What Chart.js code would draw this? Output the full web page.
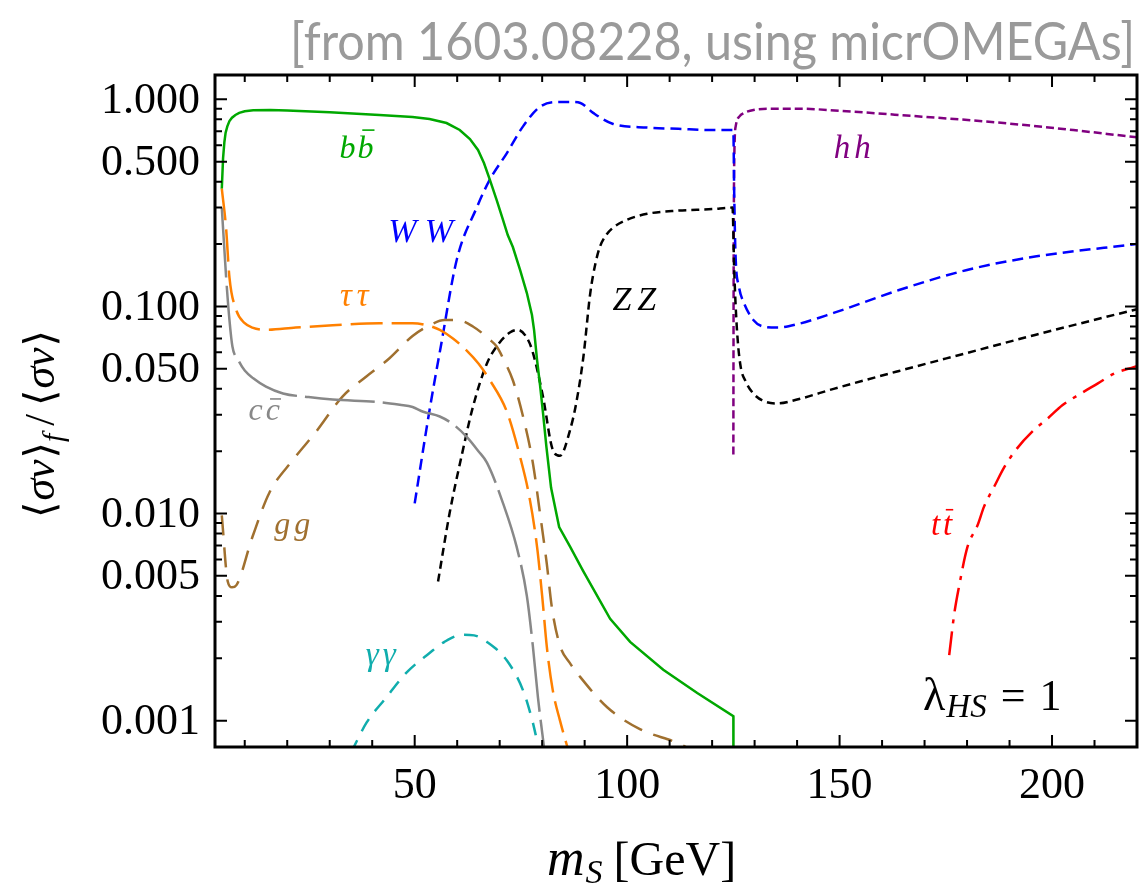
<!DOCTYPE html>
<html>
<head>
<meta charset="utf-8">
<script src="https://cdn.jsdelivr.net/npm/chart.js@4.4.1/dist/chart.umd.min.js"></script>
<style>
  html, body { margin: 0; padding: 0; background: #fff; }
  canvas { display: block; }
</style>
</head>
<body>
<canvas id="myChart" width="1140" height="885"></canvas>
<script>
// channel fractions <sigma v>_f / <sigma v> against m_S [GeV], lambda_HS = 1
var bbbar = [[4.6,0.37],[4.9,0.52],[5.2,0.62],[5.5,0.69],[5.9,0.74],[6.4,0.785],[7,0.815],[7.8,0.84],[8.7,0.86],
  [10,0.875],[12,0.885],[16,0.887],[20,0.882],[30,0.865],[41.7,0.84],[49.5,0.821],[53.5,0.803],[57.5,0.768],
  [60.6,0.711],[63,0.643],[64.9,0.569],[66.3,0.492],[67.7,0.408],[69.3,0.326],[70.8,0.261],[71.9,0.221],
  [73.1,0.1935],[74.8,0.150],[76.4,0.116],[77.6,0.0909],[78.1,0.0769],[78.8,0.0551],[79.5,0.0417],[80.2,0.0306],
  [81,0.021],[82.1,0.0133],[84,0.0086],[86.6,0.0069],[89.6,0.0053],[96,0.0031],[100.7,0.0024],[108.5,0.00176],
  [116.5,0.00136],[125,0.00105],[125.02,0.0005]];
var WW = [[50,0.0112],[53.5,0.0316],[56.2,0.065],[59.9,0.168],[64.6,0.30],[67.7,0.41],[71.7,0.55],[75.5,0.74],
  [79.5,0.92],[83.5,0.97],[87,0.97],[89,0.96],[92,0.86],[96.7,0.76],[104.7,0.73],[112,0.72],[120,0.71],
  [124.8,0.71],[125,0.70],[125.2,0.35],[125.5,0.18],[126.3,0.125],[127.4,0.105],[129.7,0.086],[132,0.080],
  [135.4,0.079],[140,0.082],[148.6,0.093],[164,0.12],[180,0.15],[196,0.174],[220,0.20]];
var ZZ = [[55.5,0.0047],[58.2,0.010],[61,0.0188],[63.7,0.0327],[67,0.053],[70,0.067],[72.5,0.075],[74.3,0.077],
  [76.5,0.070],[77.8,0.060],[80.2,0.0366],[82.5,0.0203],[84.2,0.019],[86.5,0.025],[88,0.034],[89.7,0.057],
  [91.3,0.115],[92.5,0.16],[93.6,0.194],[95,0.22],[96.7,0.24],[100,0.262],[104.7,0.28],[112,0.29],[120,0.295],
  [124.8,0.30],[125.2,0.15],[125.8,0.08],[126.6,0.053],[128,0.043],[129.7,0.038],[132,0.035],[135.4,0.034],
  [140,0.0355],[148.6,0.040],[164,0.0488],[180,0.0596],[196,0.0728],[220,0.097]];
var hh = [[125,0.0193],[125.05,0.1],[125.2,0.5],[125.6,0.75],[126.5,0.83],[127.4,0.857],[130,0.89],[133,0.90],
  [141,0.90],[150,0.88],[164,0.84],[188,0.77],[205,0.71],[220,0.655]];
var tautau = [[4.6,0.37],[5.6,0.24],[6.4,0.138],[8,0.096],[10,0.083],[11.8,0.079],[15,0.077],[22,0.079],
  [30.7,0.081],[41.7,0.083],[49.5,0.083],[53,0.081],[55.9,0.077],[59,0.070],[62.3,0.061],[65,0.053],
  [67.7,0.044],[71.7,0.031],[74.8,0.0188],[77,0.012],[78.8,0.0069],[80,0.0040],[81.1,0.00227],[82.5,0.0014],
  [84.2,0.001],[86.5,0.00068]];
var ccbar = [[4.6,0.30],[5.6,0.14],[6.4,0.086],[7.1,0.064],[8.5,0.055],[10,0.049],[12,0.045],[15,0.041],
  [19,0.038],[25,0.0365],[30.7,0.0355],[41.7,0.0345],[46.5,0.0335],[49.5,0.0327],[52,0.031],[55.9,0.0294],
  [59,0.027],[62.3,0.0234],[65,0.020],[67,0.0176],[70.8,0.0112],[74,0.0069],[76.4,0.004],[77.8,0.0023],
  [79,0.0013],[80.6,0.0007]];
var gg = [[4.6,0.0098],[6,0.0047],[7,0.0044],[8,0.0045],[11.8,0.0077],[15.8,0.0126],[21.2,0.018],[26.9,0.025],
  [33,0.0367],[38.7,0.046],[44,0.056],[49.5,0.072],[53.5,0.081],[57,0.086],[60,0.086],[63.7,0.080],
  [67.7,0.069],[69.3,0.064],[71,0.055],[73.1,0.044],[75.5,0.0294],[77.8,0.0176],[79.5,0.010],[81.1,0.0057],
  [82.3,0.0035],[84.2,0.0023],[86.5,0.0019],[88.9,0.00163],[95.3,0.00116],[103,0.00091],[112.5,0.00077],
  [116,0.0007]];
var gamgam = [[35,0.0007],[38.7,0.00098],[43.4,0.0013],[48,0.0017],[53.5,0.00212],[57,0.0024],[61.3,0.0026],
  [64,0.00258],[67,0.0024],[71.7,0.00195],[75.5,0.0014],[77.8,0.00098],[78.5,0.00085]];
var ttbar = [[175.8,0.00207],[177,0.00329],[178.1,0.00443],[180.1,0.0069],[182.5,0.0088],[184,0.0108],
  [186.4,0.0135],[188.8,0.0168],[191.5,0.0203],[195.4,0.0249],[199,0.0288],[202.5,0.0334],[206.8,0.038],
  [210.8,0.0425],[214.7,0.0475],[219.4,0.051],[220,0.0515]];

var xTicks = [50, 100, 150, 200];
var yTicks = [1, 0.5, 0.1, 0.05, 0.01, 0.005, 0.001];
var yTickLabels = ['1.000', '0.500', '0.100', '0.050', '0.010', '0.005', '0.001'];

var SERIF = "'Liberation Serif', 'DejaVu Serif', serif";

function series(points, color, dash, straight) {
  var ds = {
    data: points.map(function(p) { return { x: p[0], y: p[1] }; }),
    borderColor: color,
    borderDash: dash,
    borderWidth: 2.5,
    pointRadius: 0,
    fill: false
  };
  if (straight) ds.tension = 0;
  else ds.cubicInterpolationMode = 'monotone';
  return ds;
}

// text pieces: {t, font, dy, sp (extra advance), bar}
function drawPieces(ctx, pieces, x, y, centered) {
  var widths = pieces.map(function(p) {
    ctx.font = p.font;
    return ctx.measureText(p.t).width + (p.sp || 0);
  });
  var total = widths.reduce(function(a, b) { return a + b; }, 0) - (pieces[pieces.length - 1].sp || 0);
  var cx = centered ? x - total / 2 : x;
  pieces.forEach(function(p, i) {
    ctx.font = p.font;
    ctx.fillText(p.t, cx, y + (p.dy || 0));
    if (p.bar) {
      var w = widths[i] - (p.sp || 0);
      ctx.save();
      ctx.lineWidth = 1.6;
      ctx.strokeStyle = ctx.fillStyle;
      ctx.beginPath();
      ctx.moveTo(cx + w * 0.3, y - p.bar);
      ctx.lineTo(cx + w + 1, y - p.bar);
      ctx.stroke();
      ctx.restore();
    }
    cx += widths[i];
  });
}

function pair(ch, size, sp, barOnSecond) {
  var f = 'italic ' + size + 'px ' + SERIF;
  return [{ t: ch, font: f, sp: sp }, { t: ch, font: f, bar: barOnSecond || 0 }];
}

// channel names placed at (m_S, fraction)
var channelLabels = [
  { pieces: pair('b', 32, 2, 28), m: 36.3, v: 0.52, color: '#00a800' },
  { pieces: pair('W', 34, 8), m: 51.4, v: 0.205, color: '#0000ff' },
  { pieces: pair('τ', 33, 5), m: 35.8, v: 0.100, color: '#ff8000' },
  { pieces: pair('c', 32, 3, 21), m: 14.6, v: 0.0283, color: '#888888' },
  { pieces: pair('g', 32, 4), m: 21.2, v: 0.0080, color: '#a0702f' },
  { pieces: pair('γ', 33, 4), m: 42, v: 0.00185, color: '#10adad' },
  { pieces: pair('Z', 34, 6), m: 101.7, v: 0.096, color: '#000000' },
  { pieces: pair('h', 33, 4), m: 153, v: 0.52, color: '#800080' },
  { pieces: pair('t', 33, 3, 25), m: 174, v: 0.0079, color: '#ff0000' }
];

var framePlugin = {
  id: 'frame',
  afterDraw: function(chart) {
    var ctx = chart.ctx, a = chart.chartArea;
    var xs = chart.scales.x, ys = chart.scales.y;
    ctx.save();

    // inward ticks on all four sides
    ctx.strokeStyle = '#000';
    ctx.lineWidth = 2;
    ctx.beginPath();
    for (var m = 10; m <= 210; m += 10) {
      var px = xs.getPixelForValue(m);
      var len = xTicks.indexOf(m) >= 0 ? 12 : 7;
      ctx.moveTo(px, a.bottom); ctx.lineTo(px, a.bottom - len);
      ctx.moveTo(px, a.top); ctx.lineTo(px, a.top + len);
    }
    for (var e = -3; e <= 0; e++) {
      for (var k = 1; k <= 9; k++) {
        var v = k * Math.pow(10, e);
        if (v > 1.0001) continue;
        var py = ys.getPixelForValue(v);
        var major = (k === 1 || k === 5);
        var l = major ? 12 : 7;
        ctx.moveTo(a.left, py); ctx.lineTo(a.left + l, py);
        ctx.moveTo(a.right, py); ctx.lineTo(a.right - l, py);
      }
    }
    ctx.stroke();

    ctx.lineWidth = 3;
    ctx.strokeRect(a.left, a.top, a.right - a.left, a.bottom - a.top);

    // tick labels
    ctx.fillStyle = '#000';
    ctx.font = '44px ' + SERIF;
    ctx.textAlign = 'right';
    ctx.textBaseline = 'middle';
    yTicks.forEach(function(v, i) {
      ctx.fillText(yTickLabels[i], a.left - 15, ys.getPixelForValue(v) + 2);
    });
    ctx.textAlign = 'center';
    ctx.textBaseline = 'alphabetic';
    xTicks.forEach(function(m) {
      ctx.fillText(String(m), xs.getPixelForValue(m), 798);
    });

    // channel names
    ctx.textAlign = 'left';
    channelLabels.forEach(function(c) {
      ctx.fillStyle = c.color;
      drawPieces(ctx, c.pieces, xs.getPixelForValue(c.m), ys.getPixelForValue(c.v), true);
    });

    // coupling note
    ctx.fillStyle = '#000';
    drawPieces(ctx, [
      { t: 'λ', font: '46px ' + SERIF, sp: 1 },
      { t: 'HS', font: 'italic 33px ' + SERIF, dy: 7, sp: 14 },
      { t: '=', font: '44px ' + SERIF, sp: 14 },
      { t: '1', font: '44px ' + SERIF }
    ], 923, 710, false);

    // x axis title
    drawPieces(ctx, [
      { t: 'm', font: 'italic 52px ' + SERIF, sp: 1 },
      { t: 'S', font: 'italic 34px ' + SERIF, dy: 8, sp: 11 },
      { t: '[GeV]', font: '48px ' + SERIF }
    ], 547, 875, false);

    // y axis title, rotated
    ctx.save();
    ctx.translate(54, 424);
    ctx.rotate(-Math.PI / 2);
    var br = '42px ' + SERIF, it = 'italic 44px ' + SERIF;
    drawPieces(ctx, [
      { t: '⟨', font: br, sp: 1 }, { t: 'σv', font: it, sp: 1 }, { t: '⟩', font: br },
      { t: 'f', font: 'italic 30px ' + SERIF, dy: 9, sp: 8 },
      { t: '/', font: br, sp: 8 },
      { t: '⟨', font: br, sp: 1 }, { t: 'σv', font: it, sp: 1 }, { t: '⟩', font: br }
    ], 0, 0, true);
    ctx.restore();

    // source note
    var title = '[from 1603.08228, using micrOMEGAs]';
    ctx.font = '52px Lato';
    ctx.fillStyle = '#9a9a9a';
    var tw = ctx.measureText(title).width;
    ctx.translate(1135, 60);
    ctx.scale(845 / tw, 1);
    ctx.textAlign = 'right';
    ctx.fillText(title, 0, 0);

    ctx.restore();
  }
};

var ctx = document.getElementById('myChart').getContext('2d');
var chart = new Chart(ctx, {
  type: 'line',
  data: {
    datasets: [
      series(ccbar, '#888888', [70, 8]),
      series(tautau, '#ff8000', [32, 9]),
      series(gg, '#a0702f', [20, 12]),
      series(gamgam, '#10adad', [14, 10]),
      series(bbbar, '#00a800', [], true),
      series(ZZ, '#000000', [8, 5]),
      series(WW, '#0000ff', [11, 6]),
      series(hh, '#800080', [8, 4]),
      series(ttbar, '#ff0000', [24, 8, 4, 8])
    ]
  },
  options: {
    responsive: false,
    animation: false,
    layout: { padding: { left: 215, right: 3, top: 75, bottom: 138 } },
    plugins: { legend: { display: false }, tooltip: { enabled: false } },
    scales: {
      x: { type: 'linear', min: 3, max: 220, display: false },
      y: { type: 'logarithmic', min: 0.000746, max: 1.31, display: false }
    }
  },
  plugins: [framePlugin]
});
</script>
</body>
</html>
